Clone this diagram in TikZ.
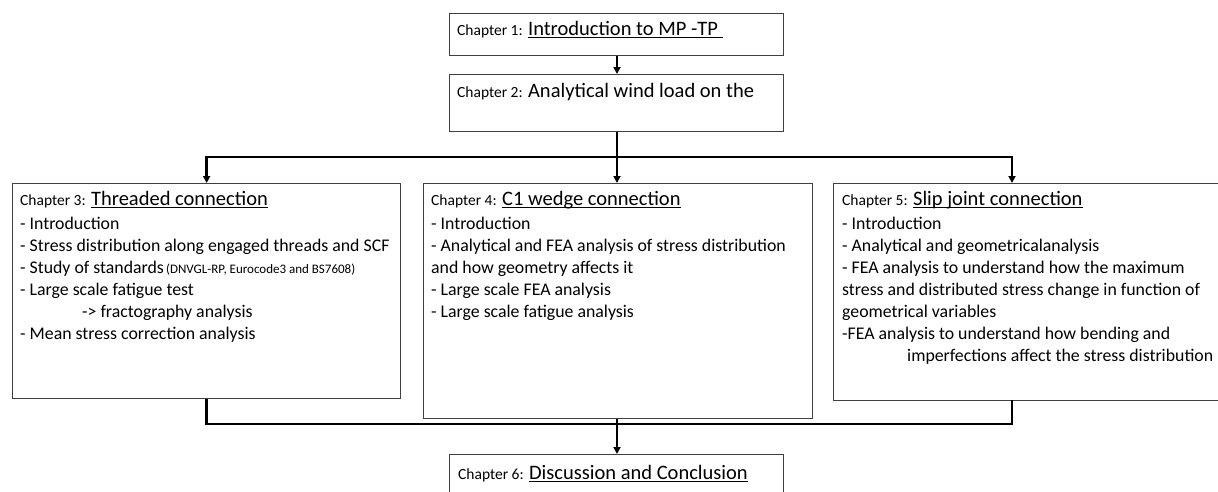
\documentclass[tikz,border=0pt]{standalone}
\usepackage{fontspec}
\setmainfont{Carlito}
\usetikzlibrary{arrows.meta,positioning}
\definecolor{boxgray}{HTML}{404040}
\tikzset{
  every picture/.style={line join=miter, >={Triangle[length=7pt,width=7pt]}},
  chbox/.style={draw=boxgray, line width=1.3pt, anchor=north west, inner sep=0pt},
  chtext/.style={anchor=north west, inner sep=0pt, align=left, font=\fontsize{17.8}{22}\selectfont},
  link/.style={line width=2.6pt, black},
}
\newcommand{\ulin}[1]{\setbox0\hbox{#1}\rlap{\rule[-2.4pt]{\wd0}{1.1pt}}\box0}
\newcommand{\chlabel}[1]{{\fontsize{15.5}{18}\selectfont Chapter #1:}}
\newcommand{\chtitle}[1]{{\fontsize{20.5}{24}\selectfont\ulin{#1}}}

\begin{document}
\begin{tikzpicture}[x=1pt,y=-1pt]
\useasboundingbox (0,0) rectangle (1218,491);
% chapter boxes
\node[chbox, minimum width=334pt, minimum height=42pt] (ch1) at (449,13) {};
\node[chbox, minimum width=334pt, minimum height=57pt] (ch2) at (449,74) {};
\node[chbox, minimum width=388pt, minimum height=215pt] (ch3) at (12,183) {};
\node[chbox, minimum width=389pt, minimum height=235pt] (ch4) at (423,183) {};
\node[chbox, minimum width=389pt, minimum height=217pt] (ch5) at (833,183) {};
\node[chbox, minimum width=334pt, minimum height=60pt] (ch6) at (449,454) {};

% box texts
\node[chtext] (t1) at ([xshift=8pt,yshift=-8pt]ch1.north west) {\chlabel{1} \chtitle{Introduction to MP -TP }};
\node[chtext] (t2) at ([xshift=8pt,yshift=-9pt]ch2.north west) {\chlabel{2} {\fontsize{20.5}{24}\selectfont Analytical wind load on the}};
\node[chtext] (t3) at ([xshift=8pt,yshift=-8pt]ch3.north west) {\chlabel{3} \chtitle{Threaded connection}\\[2pt]
- Introduction\\
- Stress distribution along engaged threads and SCF\\
- Study of standards{\fontsize{13}{16}\selectfont\,(DNVGL-RP, Eurocode3 and BS7608)}\\
- Large scale fatigue test\\
\hspace*{62pt}-> fractography analysis\\
- Mean stress correction analysis};
\node[chtext] (t4) at ([xshift=8pt,yshift=-8pt]ch4.north west) {\chlabel{4} \chtitle{C1 wedge connection}\\[2pt]
- Introduction\\
- Analytical and FEA analysis of stress distribution\\
and how geometry affects it\\
- Large scale FEA analysis\\
- Large scale fatigue analysis};
\node[chtext] (t5) at ([xshift=9pt,yshift=-8pt]ch5.north west) {\chlabel{5} \chtitle{Slip joint connection}\\[2pt]
- Introduction\\
- Analytical and geometricalanalysis\\
- FEA analysis to understand how the maximum\\
stress and distributed stress change in function of\\
geometrical variables\\
-FEA analysis to understand how bending and\\
\hspace*{65pt}imperfections affect the stress distribution};
\node[chtext] (t6) at ([xshift=9pt,yshift=-11pt]ch6.north west) {\chlabel{6} \chtitle{Discussion and Conclusion}};

% connectors
\coordinate (split) at (617,157);
\coordinate (join) at (617,424);
\coordinate (ch5in) at (1012,183);
\coordinate (ch5out) at (1012,400);
\draw[link,->] (ch1.south -| split) -- (ch2.north -| split);
\draw[link] (ch2.south -| split) -- (split);
\draw[link,->] (split) -| (ch3.north);
\draw[link,->] (split) -- (split |- ch4.north);
\draw[link,->] (split) -| (ch5in);
\draw[link] (ch3.south) |- (join);
\draw[link] (ch5out) |- (join);
\draw[link,->] (ch4.south -| join) -- (join |- ch6.north);
\end{tikzpicture}
\end{document}
